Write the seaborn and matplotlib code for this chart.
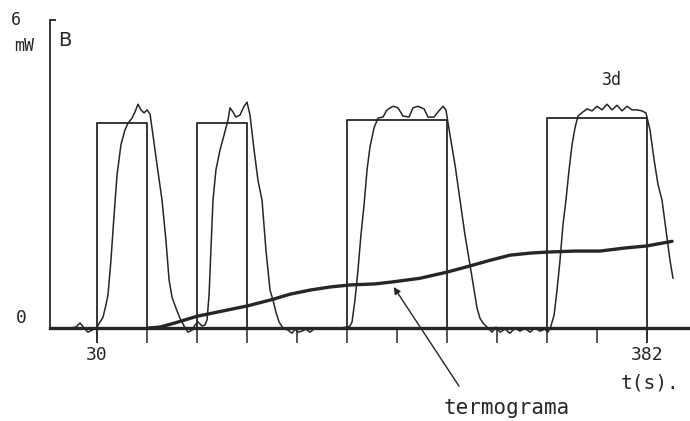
import numpy as np
import pandas as pd
import matplotlib
matplotlib.use("Agg")
import matplotlib.pyplot as plt
import seaborn as sns

# square heating pulses (t in s, power in mW), step-post
pulse_t = [0, 30, 62, 94, 126, 190, 254, 318, 382, 409.6]
pulse_p = [0, 4.0, 0, 4.0, 0, 4.05, 0, 4.1, 0, 0]

# measured response (thin curve)
resp_t = [0, 6.4, 12.8, 16.6, 19.2, 21.8, 24.3, 26.9, 30.1, 32, 33.9, 35.8, 37.1, 39, 41,
          42.9, 45.4, 48, 49.9, 52.5, 54.4, 56.3, 58.2, 60.2, 62.1, 64, 65.9, 68.5, 71.7,
          74.2, 76.2, 78.1, 80.6, 83.2, 85.8, 88.3, 90.9, 92.8, 94.7, 97.3, 99.2, 100.5,
          101.8, 103, 104.3, 106.2, 108.8, 111.4, 113.9, 115.2, 117.1, 119, 121.6, 124.2,
          126.1, 128, 130.6, 133.1, 135.7, 138.2, 140.8, 142.7, 144.6, 146.6, 149.1, 152.3,
          154.9, 156.8, 158.7, 161.3, 163.8, 166.4, 169, 172.8, 179.2, 185.6, 190.1, 192,
          193.3, 195.2, 197.1, 199, 201, 202.9, 204.8, 207.4, 209.9, 213.1, 215.7, 219.5,
          222.7, 225.9, 229.8, 232.3, 235.5, 239.4, 241.9, 245.8, 248.3, 251.5, 253.4, 256,
          259.2, 262.4, 265.6, 268.8, 271.4, 273.3, 275.2, 277.1, 280.3, 282.9, 285.4, 288,
          291.2, 294.4, 297.6, 300.8, 304, 307.2, 310.4, 313.6, 316.8, 318.7, 320.6, 322.6,
          324.5, 326.4, 328.3, 330.2, 332.2, 334.1, 336, 337.9, 341.1, 343.7, 346.9, 350.1,
          353.3, 356.5, 359.7, 362.9, 366.1, 369.3, 372.5, 375.7, 378.9, 381.4, 384, 386.6,
          389.1, 391.7, 394.2, 396.8, 398.7]
resp_p = [-0.02, -0.02, 0, 0.02, 0.10, 0, -0.08, -0.04, 0.02, 0.12, 0.21, 0.45, 0.64, 1.32, 2.20,
          2.98, 3.57, 3.86, 3.99, 4.09, 4.21, 4.36, 4.25, 4.19, 4.25, 4.17, 3.76, 3.18, 2.49,
          1.71, 0.94, 0.60, 0.39, 0.19, 0.04, -0.08, -0.04, 0.06, 0.12, 0.04, 0.06, 0.16,
          0.64, 1.52, 2.49, 3.08, 3.47, 3.76, 4.05, 4.29, 4.21, 4.11, 4.15, 4.32,
          4.40, 4.15, 3.47, 2.88, 2.49, 1.52, 0.74, 0.55, 0.31, 0.12, 0, -0.04,
          -0.10, -0.02, -0.08, -0.06, -0.02, -0.08, -0.02, 0, 0, 0, 0.02, 0.04,
          0.12, 0.55, 1.13, 1.81, 2.40, 3.08, 3.53, 3.90, 4.09, 4.11, 4.25, 4.32,
          4.29, 4.13, 4.11, 4.29, 4.32, 4.27, 4.11, 4.11, 4.21, 4.32, 4.25, 3.76,
          3.18, 2.49, 1.81, 1.23, 0.74, 0.39, 0.19, 0.10, 0, -0.08, 0.02, -0.08,
          -0.02, -0.10, 0, -0.06, 0, -0.08, 0, -0.06, -0.02, -0.08, 0.04, 0.25,
          0.74, 1.32, 2.01, 2.49, 3.08, 3.57, 3.90, 4.13, 4.21, 4.27, 4.23, 4.32,
          4.25, 4.36, 4.25, 4.34, 4.23, 4.32, 4.25, 4.25, 4.23, 4.19, 3.86, 3.28,
          2.80, 2.49, 1.91, 1.32, 0.97]

# thermogram (thick curve)
thermo_t = [62.7, 70.4, 80, 94.1, 110.1, 126.1, 142.7, 153.6, 166.4, 179.2, 192, 208, 219.5,
            236.8, 254.1, 268.8, 281.6, 294.4, 307.2, 318.1, 336, 352, 368, 382.1, 398.1]
thermo_p = [0, 0.02, 0.10, 0.23, 0.33, 0.43, 0.56, 0.66, 0.74, 0.80, 0.84, 0.86, 0.90,
            0.97, 1.09, 1.21, 1.32, 1.42, 1.46, 1.48, 1.50, 1.50, 1.56, 1.60, 1.69]

tick_t = [30 + 32 * k for k in range(12)]
label_t = [30, 382]

sns.set_style("white")
plt.rcParams['font.family'] = ['DejaVu Sans Mono', 'DejaVu Sans']
ink = "#262626"

fig = plt.figure(figsize=(6.9, 4.21), dpi=100)
ax = fig.add_axes([0, 0, 1, 1])

sns.lineplot(x=pulse_t, y=pulse_p, ax=ax, drawstyle="steps-post", color=ink, lw=1.3,
             estimator=None, sort=False)
sns.lineplot(x=resp_t, y=resp_p, ax=ax, color=ink, lw=1.1, estimator=None, sort=False)
sns.lineplot(x=thermo_t, y=thermo_p, ax=ax, color=ink, lw=2.4, estimator=None, sort=False)

ax.set_xlim(-32, 409.6)
ax.set_ylim(-1.81, 6.39)

for s in ["top", "right"]:
    ax.spines[s].set_visible(False)
ax.spines["left"].set_position(("data", 0))
ax.spines["left"].set_bounds(0, 6)
ax.spines["left"].set_linewidth(1.3)
ax.spines["left"].set_color(ink)
ax.spines["bottom"].set_position(("data", 0))
ax.spines["bottom"].set_bounds(0, 409.6)
ax.spines["bottom"].set_linewidth(2.4)
ax.spines["bottom"].set_color(ink)

# time marks below the baseline, every 32 s
ax.vlines(tick_t, -0.29, 0, colors=ink, lw=1.1, zorder=10)
ax.set_xticks(label_t)
ax.set_xticklabels([str(v) for v in label_t])
ax.tick_params(axis="x", bottom=True, direction="out", length=11, width=1.1, color=ink,
               labelsize=13, labelcolor=ink, pad=2)
ax.set_yticks([6])
ax.tick_params(axis="y", left=True, direction="in", length=4, width=1.3, color=ink,
               labelleft=False)

txt = dict(color=ink, ha="center", va="center")
ax.text(-21.8, 6.0, "6", fontsize=12, **txt)
ax.text(-16.6, 5.5, "mW", fontsize=12, **txt)
ax.text(9.6, 5.6, "B", fontsize=14, family="DejaVu Sans", **txt)
ax.text(-18.6, 0.19, "0", fontsize=13, **txt)
ax.text(359.7, 4.83, "3d", fontsize=12, **txt)
ax.text(384, -1.07, "t(s).", fontsize=14, **txt)
ax.annotate("termograma", xy=(220, 0.80), xytext=(292.5, -1.56), fontsize=15,
            color=ink, ha="center", va="center",
            arrowprops=dict(arrowstyle="-|>", color=ink, lw=1.0,
                            shrinkA=0, shrinkB=0, mutation_scale=10,
                            relpos=(0.12, 1.6)))

plt.savefig("out.png", dpi=100)
